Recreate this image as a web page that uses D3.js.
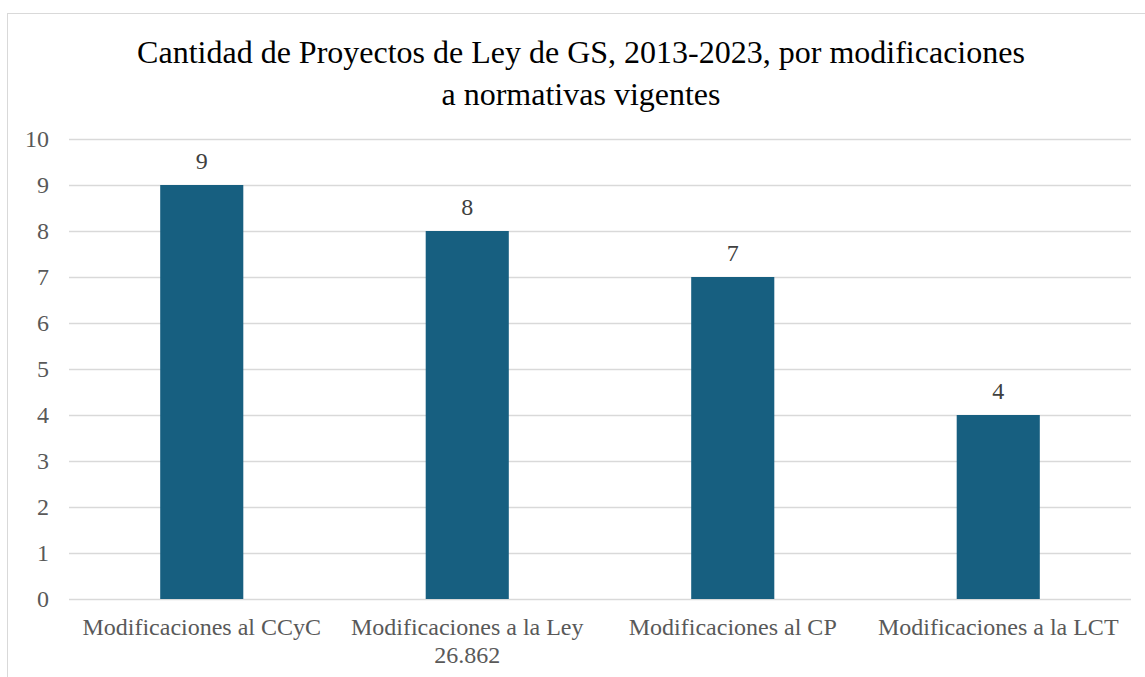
<!DOCTYPE html>
<html><head><meta charset="utf-8">
<script src="https://cdn.jsdelivr.net/npm/d3@7/dist/d3.min.js"></script>
<style>body{margin:0;background:#fff;}svg{display:block;} svg text{font-family:"Liberation Serif","Times New Roman",Times,serif;}</style>
</head><body>
<script>
const categories = [["Modificaciones al CCyC"], ["Modificaciones a la Ley", "26.862"], ["Modificaciones al CP"], ["Modificaciones a la LCT"]];
const values = [9, 8, 7, 4];
const yTicks = [0,1,2,3,4,5,6,7,8,9,10];
const titleLines = ["Cantidad de Proyectos de Ley de GS, 2013-2023, por modificaciones", "a normativas vigentes"];

const W = 1145, H = 677;
const svg = d3.select("body").append("svg").attr("width", W).attr("height", H);

svg.append("rect").attr("x", 7.5).attr("y", 13.5).attr("width", W + 20).attr("height", H + 20)
  .attr("fill", "none").attr("stroke", "#d9d9d9").attr("stroke-width", 1);

const x0 = 69, x1 = 1131, yTop = 139, yBot = 599;
const x = d3.scaleBand().domain(d3.range(categories.length)).range([x0, x1]).paddingInner(0.687).paddingOuter(0.3435);
const y = d3.scaleLinear().domain([0, 10]).range([yBot, yTop]);

svg.append("g").selectAll("line").data(yTicks).join("line")
  .attr("x1", x0).attr("x2", x1).attr("y1", d => y(d) + 0.5).attr("y2", d => y(d) + 0.5)
  .attr("stroke", "#d9d9d9").attr("stroke-width", 1.3);

svg.append("g").selectAll("text").data(yTicks).join("text")
  .attr("x", 49).attr("y", d => y(d)).attr("dy", "0.33em").attr("text-anchor", "end")
  .attr("font-size", 24).attr("fill", "#595959").text(d => d);

svg.append("g").selectAll("rect").data(values).join("rect")
  .attr("x", (d, i) => x(i)).attr("width", x.bandwidth())
  .attr("y", d => y(d)).attr("height", d => y(0) - y(d)).attr("fill", "#175f80");

svg.append("g").selectAll("text").data(values).join("text")
  .attr("x", (d, i) => x(i) + x.bandwidth() / 2).attr("y", d => y(d) - 16)
  .attr("text-anchor", "middle").attr("font-size", 24)
  .attr("fill", "#404040").text(d => d);

const cat = svg.append("g").selectAll("text").data(categories).join("text")
  .attr("text-anchor", "middle").attr("font-size", 24).attr("fill", "#595959");
cat.selectAll("tspan").data((d, i) => d.map(t => ({t, i}))).join("tspan")
  .attr("x", d => x(d.i) + x.bandwidth() / 2).attr("y", (d, j) => 635 + j * 28).text(d => d.t);

svg.append("g").selectAll("text").data(titleLines).join("text")
  .attr("x", 581).attr("y", (d, i) => 63 + i * 42).attr("text-anchor", "middle")
  .attr("font-size", 32).attr("fill", "#000").text(d => d);
</script>
</body></html>
